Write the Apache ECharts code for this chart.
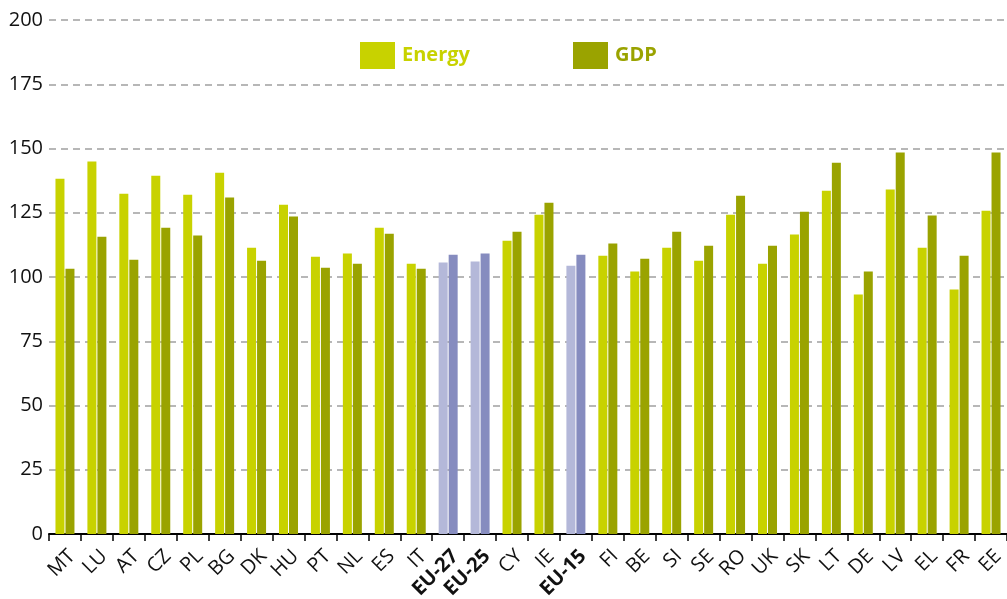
<!DOCTYPE html>
<html>
<head>
<meta charset="utf-8">
<script src="https://cdn.jsdelivr.net/npm/echarts@6/dist/echarts.min.js"></script>
<style>
html,body{margin:0;padding:0;background:#fff;}
#chart{width:1007px;height:599px;}
</style>
</head>
<body>
<div id="chart"></div>
<script>
const categories = ['MT','LU','AT','CZ','PL','BG','DK','HU','PT','NL','ES','IT','EU-27','EU-25','CY','IE','EU-15','FI','BE','SI','SE','RO','UK','SK','LT','DE','LV','EL','FR','EE'];
const energyValues = [138.2,144.9,132.4,139.4,132.0,140.6,111.4,128.1,107.9,109.1,119.2,105.2,105.6,106.0,114.1,124.2,104.4,108.3,102.1,111.4,106.3,124.2,105.2,116.5,133.6,93.2,134.0,111.4,95.1,125.8];
const gdpValues = [103.2,115.7,106.7,119.2,116.1,130.9,106.3,123.5,103.6,105.2,116.8,103.2,108.7,109.1,117.6,128.9,108.7,113.0,107.1,117.6,112.2,131.6,112.2,125.4,144.5,102.1,148.4,123.9,108.3,148.4];
const aggregates = ['EU-27','EU-25','EU-15'];
const yTicks = [0,25,50,75,100,125,150,175,200];

const energyColor = '#c8d200';
const gdpColor = '#9aa300';
const aggEnergyColor = '#b4b8d9';
const aggGdpColor = '#868cbf';

const chart = echarts.init(document.getElementById('chart'), null, {renderer:'canvas'});
const font = 'Open Sans, Noto Sans, sans-serif';

function mk(vals, normal, agg){
  return vals.map((v,i)=>({value:v, itemStyle:{color: aggregates.includes(categories[i]) ? agg : normal}}));
}

chart.setOption({
  animation:false,
  backgroundColor:'#fff',
  grid:{left:49, right:0, top:20, bottom:65, containLabel:false, outerBoundsMode:'none'},
  legend:[
    {left:360, top:42, padding:0, itemWidth:35, itemHeight:27, itemGap:0, icon:'rect',
     data:[{name:'Energy', textStyle:{color:energyColor}}],
     textStyle:{fontFamily:font, fontWeight:'bold', fontSize:20, padding:[0,0,0,2]}, selectedMode:false},
    {left:573, top:42, padding:0, itemWidth:35, itemHeight:27, itemGap:0, icon:'rect',
     data:[{name:'GDP', textStyle:{color:gdpColor}}],
     textStyle:{fontFamily:font, fontWeight:'bold', fontSize:20, padding:[0,0,0,2]}, selectedMode:false}
  ],
  xAxis:{
    type:'category', data:categories,
    axisLine:{show:true, lineStyle:{color:'#000', width:2}},
    axisTick:{show:true, alignWithLabel:false, length:7, lineStyle:{color:'#000', width:1.5}},
    axisLabel:{rotate:45, interval:0, margin:12, verticalAlign:'top', fontFamily:font, fontSize:20, color:'#111',
      formatter:(v)=> aggregates.includes(v) ? '{b|'+v+'}' : v,
      rich:{b:{fontWeight:'bold', fontFamily:font, fontSize:20, color:'#111', verticalAlign:'top'}}}
  },
  yAxis:{
    type:'value', min:0, max:200, interval:25,
    axisLine:{show:false}, axisTick:{show:false},
    axisLabel:{fontFamily:font, fontSize:20, color:'#111', margin:6},
    splitLine:{show:true, lineStyle:{color:'#a0a0a0', type:[7,5], width:1.5}}
  },
  series:[
    {name:'Energy', type:'bar', barWidth:9, barGap:'11%', itemStyle:{color:energyColor},
     data:mk(energyValues, energyColor, aggEnergyColor)},
    {name:'GDP', type:'bar', barWidth:9, barGap:'11%', itemStyle:{color:gdpColor},
     data:mk(gdpValues, gdpColor, aggGdpColor)}
  ]
});
</script>
</body>
</html>
